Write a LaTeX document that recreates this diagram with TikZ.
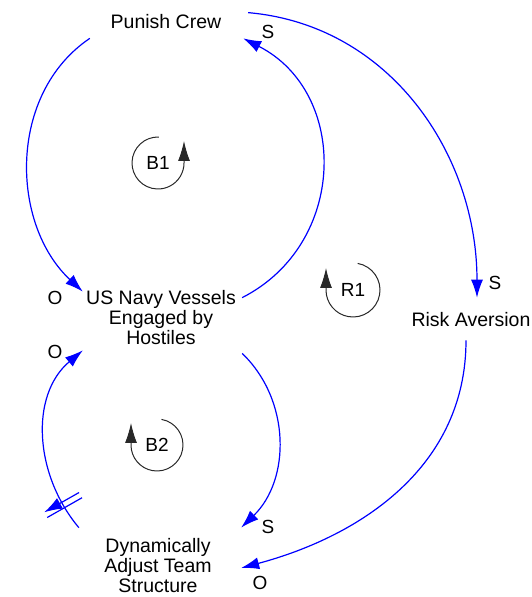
\documentclass[tikz,border=0pt]{standalone}
\usepackage{fontspec}
\setmainfont{Liberation Sans}
\usepackage{tikz}
\usetikzlibrary{arrows.meta}
\usetikzlibrary{decorations.markings}
\definecolor{linkblue}{RGB}{0, 0, 255}
\definecolor{loopgray}{RGB}{40, 40, 40}
\tikzset{
  factor/.style={align=center, inner sep=1pt, font=\fontsize{19.5}{20}\selectfont},
  polarity/.style={inner sep=0pt, font=\fontsize{19}{20}\selectfont},
  looplabel/.style={inner sep=0pt, font=\fontsize{19}{20}\selectfont},
  link/.style={linkblue, line width=1.2pt, -{Latex[length=18pt,width=12pt]}},
  loopsign/.style={loopgray, line width=1pt, -{Latex[length=20pt,width=12pt]}},
  delaylink/.style={link, postaction={decorate},
    decoration={markings, mark=at position 0.14 with
      {\draw[linkblue, line width=1.2pt] (-3pt,-20pt) -- (-3pt,20pt) (3pt,-20pt) -- (3pt,20pt);}}}
}

\begin{document}
\begin{tikzpicture}[x=1pt, y=1pt]
  \useasboundingbox (0,0) rectangle (531,597);
  % variables
  \node[factor] (punish) at (166,575) {Punish Crew};
  \node[factor] (navy)   at (161,279) {US Navy Vessels\\Engaged by\\Hostiles};
  \node[factor] (risk)   at (471,277) {Risk Aversion};
  \node[factor] (adjust) at (158, 31) {Dynamically\\Adjust Team\\Structure};
  % causal links
  \draw[link]      ([xshift=-19.7pt,yshift=-8pt]punish.south west) to[out=214, in=137]                ([xshift=-2.2pt,yshift=-2pt]navy.north west);
  \draw[link]      ([xshift=5.2pt,yshift=-8pt]navy.north east)      to[out=27,  in=-27, looseness=1.17] ([xshift=20.7pt,yshift=-8pt]punish.south east);
  \draw[link]      ([xshift=25.7pt,yshift=1pt]punish.north east)    to[out=-5,  in=90]                 ([xshift=6pt,yshift=14pt]risk.north);
  \draw[link]      ([xshift=-5pt,yshift=-12pt]risk.south)           to[out=-90, in=15]                 ([xshift=28.3pt,yshift=-2pt]adjust.east);
  \draw[link]      ([xshift=5.2pt,yshift=-7pt]navy.south east)      to[out=-44, in=44]                 ([xshift=28.3pt,yshift=10pt]adjust.north east);
  \draw[delaylink] ([xshift=-24.3pt,yshift=10pt]adjust.north west) to[out=130, in=-140]               ([xshift=-2.2pt,yshift=-4pt]navy.south west);
  % polarities
  \node[polarity] (pol1) at ( 55,299) {O};
  \node[polarity] (pol2) at (268,565) {S};
  \node[polarity] (pol3) at (495,314) {S};
  \node[polarity] (pol4) at (260, 14) {O};
  \node[polarity] (pol5) at (268, 70) {S};
  \node[polarity] (pol6) at ( 55,245) {O};
  % loop markers
  \node[looplabel] (b1) at (158,434) {B1};
  \draw[loopsign] ([shift={(88:26)}]b1.center) arc (88:360:26) -- ++(0,22);
  \node[looplabel] (r1) at (353,307) {R1};
  \draw[loopsign] ([shift={(80:27)}]r1.center) arc (80:-180:27) -- ++(0,22);
  \node[looplabel] (b2) at (157,152) {B2};
  \draw[loopsign] ([shift={(80:26)}]b2.center) arc (80:-180:26) -- ++(0,22);
\end{tikzpicture}
\end{document}
